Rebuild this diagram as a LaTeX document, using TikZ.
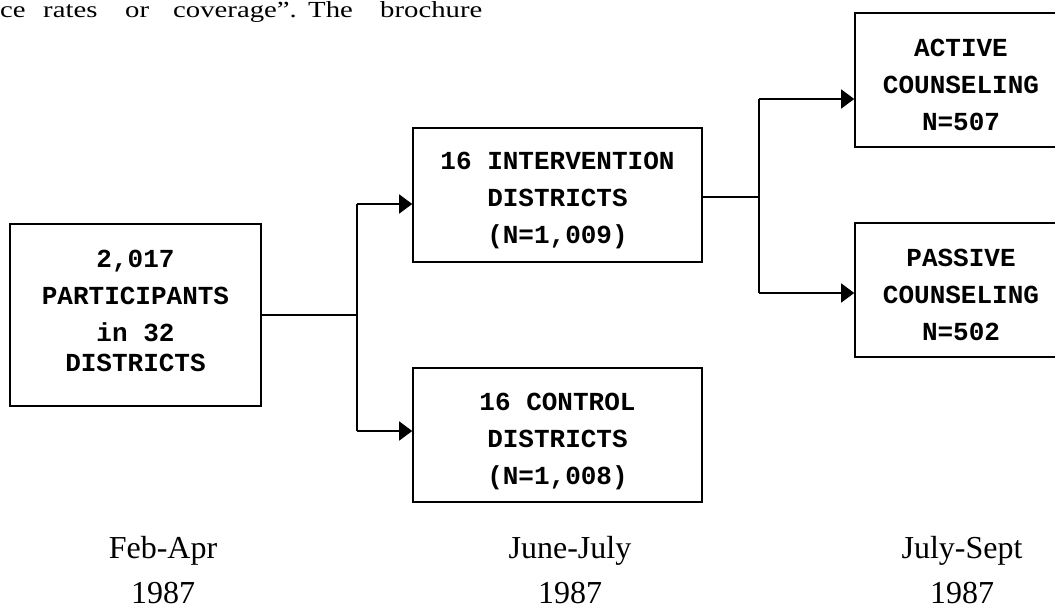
\documentclass[tikz,border=0pt]{standalone}
\usepackage{fontspec}
\setmainfont{Liberation Serif}
\setmonofont{Liberation Mono}
\newfontfamily\widefont[FakeStretch=1.25]{Liberation Serif}
\usetikzlibrary{arrows.meta}
\begin{document}
\begin{tikzpicture}[x=1pt,y=-1pt,
  box/.style={draw,line width=1.6pt,rectangle,inner sep=0pt},
  boxtext/.style={align=center,inner sep=0pt,
    font=\fontsize{26}{37}\selectfont\ttfamily\bfseries},
  conn/.style={line width=1.6pt},
  arr/.style={line width=1.6pt,-{Triangle[length=13pt,width=19pt]}},
  body/.style={font=\widefont\fontsize{23}{27}\selectfont,anchor=base west,inner sep=0pt},
  when/.style={font=\fontsize{32}{45}\selectfont,align=center,inner sep=0pt,anchor=base}]
\useasboundingbox (0,0) rectangle (1055,612);
% running text fragment
\node[body] (w1) at (0,18) {ce};
\node[body] (w2) at (43,18) {rates};
\node[body] (w3) at (125,18) {or};
\node[body] (w4) at (173,18) {coverage”.};
\node[body] (w5) at (308,18) {The};
\node[body] (w6) at (380,18) {brochure};
% boxes
\node[box,minimum width=251pt,minimum height=182pt] (A) at (135.5,315) {};
\node[box,minimum width=289pt,minimum height=134pt] (B) at (557.5,195) {};
\node[box,minimum width=289pt,minimum height=134pt] (C) at (557.5,435) {};
\node[box,minimum width=207pt,minimum height=134pt] (D) at (958.5,80) {};
\node[box,minimum width=207pt,minimum height=134pt] (E) at (958.5,290) {};
% box texts
\node[boxtext] (At) at ([yshift=4pt]A.center) {2,017\\PARTICIPANTS\\in 32\\[-7pt]DISTRICTS};
\node[boxtext] (Bt) at ([yshift=-6pt]B.center) {16 INTERVENTION\\DISTRICTS\\(N=1,009)};
\node[boxtext] (Ct) at ([yshift=-6pt]C.center) {16 CONTROL\\DISTRICTS\\(N=1,008)};
\node[boxtext] (Dt) at ([yshift=-5pt,xshift=2.5pt]D.center) {ACTIVE\\COUNSELING\\N=507};
\node[boxtext] (Et) at ([yshift=-5pt,xshift=2.5pt]E.center) {PASSIVE\\COUNSELING\\N=502};
% connectors
\coordinate (j1) at (357,315);
\coordinate (j1t) at (357,204);
\coordinate (j1b) at (357,431);
\draw[conn] (A.east) -- (j1);
\draw[conn] (j1t) -- (j1b);
\draw[arr] (j1t) -- (j1t -| B.west);
\draw[arr] (j1b) -- (j1b -| C.west);
\coordinate (j2) at (759,197);
\coordinate (j2t) at (759,99);
\coordinate (j2b) at (759,293);
\draw[conn] (B.east |- j2) -- (j2);
\draw[conn] (j2t) -- (j2b);
\draw[arr] (j2t) -- (j2t -| D.west);
\draw[arr] (j2b) -- (j2b -| E.west);
% time labels
\node[when] (t1) at (163,603) {Feb-Apr\\1987};
\node[when] (t2) at (570,603) {June-July\\1987};
\node[when] (t3) at (962,603) {July-Sept\\1987};
\end{tikzpicture}
\end{document}
